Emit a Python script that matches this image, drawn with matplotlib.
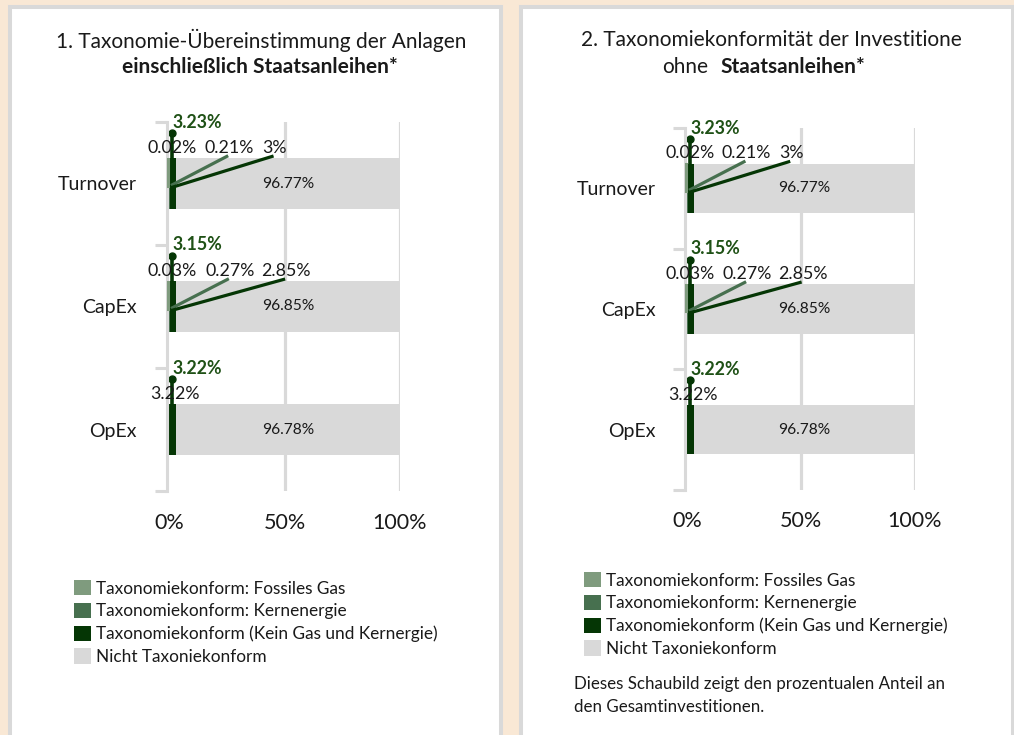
import matplotlib.pyplot as plt
from matplotlib.patches import Rectangle, Patch

plt.rcParams['font.family'] = ['Lato', 'DejaVu Sans']

W, H = 1014, 735

categories = ['Turnover', 'CapEx', 'OpEx']

# chart 1: incl. sovereign bonds, chart 2: without sovereign bonds (values in %)
gas_1 = [0.02, 0.03, 0.0]
nuclear_1 = [0.21, 0.27, 0.0]
other_1 = [3.0, 2.85, 3.22]
not_aligned_1 = [96.77, 96.85, 96.78]
total_1 = [3.23, 3.15, 3.22]

gas_2 = [0.02, 0.03, 0.0]
nuclear_2 = [0.21, 0.27, 0.0]
other_2 = [3.0, 2.85, 3.22]
not_aligned_2 = [96.77, 96.85, 96.78]
total_2 = [3.23, 3.15, 3.22]

x_ticks = [0, 50, 100]
x_tick_labels = ['0%', '50%', '100%']

legend_labels = ['Taxonomiekonform: Fossiles Gas',
                 'Taxonomiekonform: Kernenergie',
                 'Taxonomiekonform (Kein Gas und Kernergie)',
                 'Nicht Taxoniekonform']

c_gas = '#7f9b7e'
c_nuc = '#47704f'
c_oth = '#053605'
c_not = '#d9d9d9'
c_tot = '#1f5116'
c_grid = '#d9d9d9'
c_txt = '#1a1a1a'

# label x positions (in %) for the small labels above each bar
lab_x_gas = 1.3
lab_x_nuc = [26.0, 26.3]
lab_x_oth = [45.6, 50.6, 2.6]


def fx(px):
    return px / W


def fy(py):
    return 1 - py / H


def pct(v):
    return '{:g}%'.format(v)


def do_plot(ax, gas, nuc, oth, nta, tot, cat_pad, tick_pad):
    y = list(range(len(categories)))
    left = [0.0] * len(y)
    for vals, col in [(gas, c_gas), (nuc, c_nuc), (oth, c_oth), (nta, c_not)]:
        ax.barh(y, vals, left=left, height=0.41, color=col, zorder=2)
        left = [l + v for l, v in zip(left, vals)]

    for i in y:
        # total aligned label + marker line
        ax.text(1.6, i - 0.50, pct(tot[i]), color=c_tot, fontsize=12.8,
                fontweight='bold', ha='left', va='center', zorder=5)
        ax.plot([1.3, 1.3], [i - 0.41, i - 0.2], color=c_oth, lw=2.6, zorder=3)
        ax.plot([1.3], [i - 0.41], 'o', color=c_oth, ms=5, zorder=3)
        if gas[i] > 0:
            ax.plot([-0.6, -0.6], [i - 0.2, i + 0.02], color=c_gas, lw=2.2,
                    zorder=3, clip_on=False)
            ax.plot([1.5, lab_x_nuc[i] - 1], [i + 0.01, i - 0.22], color=c_nuc,
                    lw=2.3, zorder=3)
            ax.plot([1.5, lab_x_oth[i] - 1], [i + 0.03, i - 0.22], color=c_oth,
                    lw=2.3, zorder=3)
            ax.text(lab_x_gas, i - 0.29, pct(gas[i]), fontsize=12.8, color=c_txt,
                    ha='center', va='center', zorder=4)
            ax.text(lab_x_nuc[i], i - 0.29, pct(nuc[i]), fontsize=12.8, color=c_txt,
                    ha='center', va='center', zorder=4)
        ax.text(lab_x_oth[i], i - 0.29, pct(oth[i]), fontsize=12.8, color=c_txt,
                ha='center', va='center', zorder=4)
        ax.text(tot[i] + nta[i] / 2, i, pct(nta[i]), fontsize=11.2, color=c_txt,
                ha='center', va='center', zorder=4)

    ax.set_xlim(0, 100)
    ax.set_ylim(len(y) - 0.5, -0.5)
    ax.set_xticks(x_ticks)
    ax.set_xticklabels(x_tick_labels, fontsize=15.5, color=c_txt)
    ax.tick_params(axis='x', length=0, pad=tick_pad)
    ax.grid(axis='x', color=c_grid, lw=2.3)
    ax.xaxis.get_gridlines()[0].set_visible(False)
    ax.set_axisbelow(True)

    ax.set_yticks([-0.5, 0.5, 1.5, 2.5])
    ax.set_yticklabels([])
    ax.set_yticks(y, minor=True)
    ax.set_yticklabels(categories, minor=True)
    ax.tick_params(axis='y', which='major', length=9, width=2.2, color=c_grid)
    ax.tick_params(axis='y', which='minor', length=0, pad=cat_pad,
                   labelsize=14, labelcolor=c_txt)

    for s in ['top', 'right', 'bottom']:
        ax.spines[s].set_visible(False)
    ax.spines['left'].set_color(c_grid)
    ax.spines['left'].set_linewidth(2.2)
    ax.spines['left'].set_position(('outward', 1.5))
    ax.patch.set_alpha(0)


fig = plt.figure(figsize=(W / 100, H / 100), dpi=100)
fig.patch.set_facecolor('#f9e8d5')

# the two white cards
for x0, x1 in [(10, 501), (521, 1012.5)]:
    fig.patches.append(Rectangle((fx(x0), fy(760)), fx(x1) - fx(x0), fy(7) - fy(760),
                                 transform=fig.transFigure, facecolor='white',
                                 edgecolor='#d9d9d9', lw=2.9, zorder=-5))

ax1 = fig.add_axes([fx(169), fy(491), fx(400) - fx(169), fy(122) - fy(491)])
do_plot(ax1, gas_1, nuclear_1, other_1, not_aligned_1, total_1, cat_pad=22, tick_pad=16)

ax2 = fig.add_axes([fx(687), fy(490), fx(915) - fx(687), fy(128) - fy(490)])
do_plot(ax2, gas_2, nuclear_2, other_2, not_aligned_2, total_2, cat_pad=21, tick_pad=15)

# titles
fig.text(fx(261), fy(40), '1. Taxonomie-Übereinstimmung der Anlagen', fontsize=15,
         ha='center', va='center', color=c_txt)
fig.text(fx(260), fy(67), 'einschließlich Staatsanleihen*', fontsize=15,
         fontweight='bold', ha='center', va='center', color=c_txt)
fig.text(fx(771), fy(40), '2. Taxonomiekonformität der Investitione', fontsize=15,
         ha='center', va='center', color=c_txt)
fig.text(fx(708), fy(67), 'ohne', fontsize=15, ha='right', va='center', color=c_txt)
fig.text(fx(720), fy(67), 'Staatsanleihen*', fontsize=15, fontweight='bold',
         ha='left', va='center', color=c_txt)

handles = [Patch(facecolor=c) for c in [c_gas, c_nuc, c_oth, c_not]]
for x0, y0 in [(74, 580), (584, 572)]:
    fig.legend(handles, legend_labels, loc='upper left',
               bbox_to_anchor=(fx(x0), fy(y0)), frameon=False, fontsize=12.4,
               handlelength=1.0, handleheight=1.0, handletextpad=0.3,
               labelspacing=0.36, borderpad=0, borderaxespad=0, labelcolor=c_txt)

fig.text(fx(574), fy(676), 'Dieses Schaubild zeigt den prozentualen Anteil an\n'
         'den Gesamtinvestitionen.', fontsize=12.2, ha='left', va='top',
         linespacing=1.5, color=c_txt)

fig.savefig('out.png', dpi=100, facecolor=fig.get_facecolor())
